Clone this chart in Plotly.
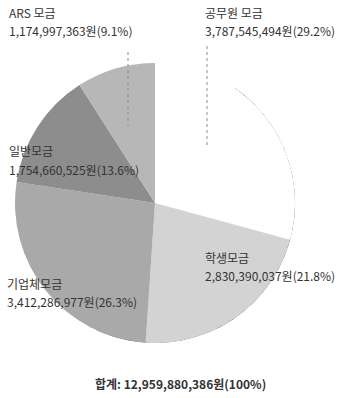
import numpy as np
import plotly.graph_objects as go

# Donation sources, clockwise from 12 o'clock
categories = ["공무원 모금", "학생모금", "기업체모금", "일반모금", "ARS 모금"]
amounts = [3787545494, 2830390037, 3412286977, 1754660525, 1174997363]
shares = [29.2, 21.8, 26.3, 13.6, 9.1]
total_amount = 12959880386
colors = ["#ffffff", "#d3d3d3", "#a9a9a9", "#8d8d8d", "#b7b7b7"]

W, H = 358, 398
# pie placement in pixels (centre and radius)
cx, cy, rad = 155, 203, 140
dom_x = [(cx - rad) / W, (cx + rad) / W]
dom_y = [(H - cy - rad) / H, (H - cy + rad) / H]

fig = go.Figure()
fig.add_trace(go.Pie(
    labels=categories,
    values=amounts,
    sort=False,
    direction="clockwise",
    rotation=0,
    marker=dict(colors=colors, line=dict(width=0)),
    textinfo="none",
    hoverinfo="label+value+percent",
    showlegend=False,
    domain=dict(x=dom_x, y=dom_y),
))

# dark rim along the right and lower edge of the pie
arc = np.linspace(35, 205, 120)
fig.add_trace(go.Scatterpolar(
    r=np.ones_like(arc), theta=arc, mode="lines",
    line=dict(color="#3a3a3a", width=1.6),
    hoverinfo="skip", showlegend=False,
))

fig.update_layout(
    width=W, height=H,
    margin=dict(l=0, r=0, t=0, b=0),
    paper_bgcolor="white",
    plot_bgcolor="white",
    polar=dict(
        domain=dict(x=dom_x, y=dom_y),
        bgcolor="rgba(0,0,0,0)",
        radialaxis=dict(visible=False, range=[0, 1]),
        angularaxis=dict(visible=False, rotation=90, direction="clockwise"),
    ),
)

font = dict(family="Noto Sans CJK KR", size=12, color="#333333")

def fmt(i):
    return f"{amounts[i]:,}원({shares[i]}%)"

# label anchor positions in pixels (left x, first-line y)
label_pos = {
    "ARS 모금": (7, 13),
    "공무원 모금": (203, 13),
    "일반모금": (7, 151),
    "학생모금": (203, 257),
    "기업체모금": (5, 283),
}
for i, name in enumerate(categories):
    px, py = label_pos[name]
    fig.add_annotation(
        x=px / W, y=1 - py / H, xref="paper", yref="paper",
        xanchor="left", yanchor="middle", showarrow=False,
        text=name, font=font,
    )
    fig.add_annotation(
        x=px / W, y=1 - (py + 18) / H, xref="paper", yref="paper",
        xanchor="left", yanchor="middle", showarrow=False,
        text=fmt(i), font=font,
    )

fig.add_annotation(
    x=180 / W, y=1 - 383 / H, xref="paper", yref="paper",
    xanchor="center", yanchor="middle", showarrow=False,
    text=f"<b>합계: {total_amount:,}원(100%)</b>",
    font=dict(family="Noto Sans CJK KR", size=12, color="#333333"),
)

# dotted leader lines from the top labels into their slices
for x0, y0, y1 in [(128, 52, 125), (207, 46, 147)]:
    fig.add_shape(
        type="line", xref="paper", yref="paper",
        x0=x0 / W, x1=x0 / W, y0=1 - y0 / H, y1=1 - y1 / H,
        line=dict(color="#8a8a8a", width=1, dash="dot"),
    )

fig.write_html("out.html")
